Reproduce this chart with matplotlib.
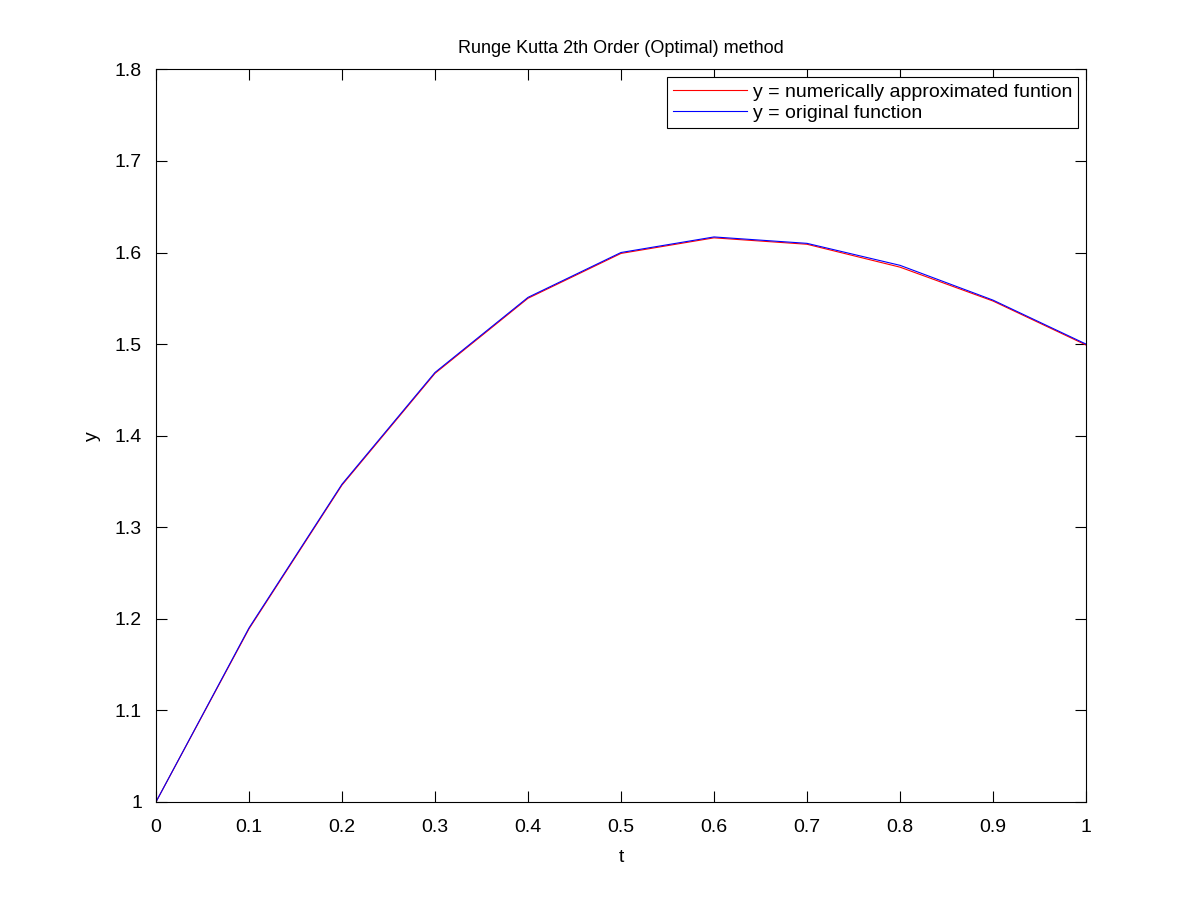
import matplotlib
matplotlib.use('Agg')
import matplotlib.pyplot as plt

t = [0.0, 0.1, 0.2, 0.3, 0.4, 0.5, 0.6, 0.7, 0.8, 0.9, 1.0]
y_approx = [1.0, 1.189, 1.346, 1.468, 1.550, 1.599, 1.616, 1.609, 1.584, 1.547, 1.499]
y_exact = [1.0, 1.190, 1.347, 1.469, 1.551, 1.600, 1.617, 1.610, 1.586, 1.548, 1.500]

plt.rcParams['font.family'] = ['Liberation Sans', 'DejaVu Sans']
fig = plt.figure(figsize=(12, 9.01), dpi=100)
ax = fig.add_axes([0.13, 0.11, 0.775, 0.813])
ax.plot(t, y_approx, color='red', linewidth=0.8, label='y = numerically approximated funtion')
ax.plot(t, y_exact, color='blue', linewidth=0.8, label='y = original function')
ax.set_xlim(0, 1)
ax.set_ylim(1, 1.8)
ax.set_xticks([i / 10 for i in range(11)])
ax.set_xticklabels(['0', '0.1', '0.2', '0.3', '0.4', '0.5', '0.6', '0.7', '0.8', '0.9', '1'])
ax.set_yticks([1 + i / 10 for i in range(9)])
ax.set_yticklabels(['1', '1.1', '1.2', '1.3', '1.4', '1.5', '1.6', '1.7', '1.8'])
ax.tick_params(direction='in', top=True, right=True, labelsize=14, length=8)
ax.tick_params(axis='x', pad=12)
ax.tick_params(axis='y', pad=10)
ax.set_xlabel('t', fontsize=14, labelpad=10)
ax.set_ylabel('y', fontsize=14, labelpad=10)
ax.set_title('Runge Kutta 2th Order (Optimal) method', fontsize=13, pad=12)
leg = ax.legend(loc='upper right', fontsize=14, fancybox=False, framealpha=1,
                edgecolor='black', handlelength=3.8, handletextpad=0.3,
                borderaxespad=0.4, labelspacing=0.2, borderpad=0.3)
leg.get_frame().set_linewidth(0.8)
fig.savefig('out.png', dpi=100)
